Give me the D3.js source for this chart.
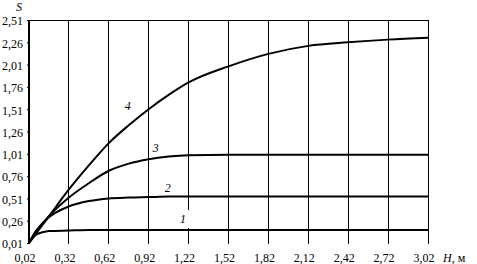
<!DOCTYPE html>
<html>
<head>
<meta charset="utf-8">
<script src="https://cdn.jsdelivr.net/npm/d3@7"></script>
<style>
body{margin:0;background:#fff;}
svg text{font-family:"Liberation Serif","Times New Roman",serif !important;font-size:12px;fill:#000;}
</style>
</head>
<body>
<svg id="chart" width="477" height="264"></svg>
<script>
// H, m
var hTicks = [0.02,0.32,0.62,0.92,1.22,1.52,1.82,2.12,2.42,2.72,3.02];
var sTicks = [0.01,0.26,0.51,0.76,1.01,1.26,1.51,1.76,2.01,2.26,2.51];

var hVals = [0.02,0.07,0.12,0.17,0.32,0.47,0.62,0.77,0.92,1.07,1.22,1.52,1.82,2.12,2.42,2.72,3.02];
var s1 = [0.01,0.10,0.13,0.145,0.15,0.155,0.155,0.155,0.155,0.155,0.155,0.155,0.155,0.155,0.155,0.155,0.155];
var s2 = [0.01,0.14,0.23,0.30,0.42,0.48,0.51,0.52,0.525,0.53,0.53,0.53,0.53,0.53,0.53,0.53,0.53];
var s3 = [0.01,0.13,0.22,0.31,0.52,0.68,0.82,0.90,0.95,0.98,0.995,1.0,1.0,1.0,1.0,1.0,1.0];
var s4 = [0.01,0.11,0.21,0.31,0.61,0.88,1.13,1.33,1.51,1.67,1.81,1.99,2.13,2.22,2.26,2.29,2.31];

// curve number labels (H, S)
var curveLabels = [
  {t:"4", h:0.74, s:1.50},
  {t:"3", h:0.95, s:1.03},
  {t:"2", h:1.04, s:0.58},
  {t:"1", h:1.155, s:0.234}
];

var font = "'Liberation Serif','Times New Roman',serif";
var svg = d3.select("#chart");
var x = d3.scaleLinear().domain([0.02,3.02]).range([29,428]);
var y = d3.scaleLinear().domain([0.01,2.51]).range([243,20]);

// vertical grid lines
svg.selectAll(".grid").data(hTicks.slice(1)).enter().append("line")
  .attr("x1",function(d){return x(d);}).attr("x2",function(d){return x(d);})
  .attr("y1",y(2.51)).attr("y2",y(0.01)+1)
  .attr("stroke","#000").attr("stroke-width",1).attr("shape-rendering","crispEdges");

// top border
svg.append("line").attr("x1",x(0.02)).attr("x2",x(3.02)+0.5)
  .attr("y1",y(2.51)).attr("y2",y(2.51))
  .attr("stroke","#000").attr("stroke-width",1).attr("shape-rendering","crispEdges");

// gap behind label 1
var l1 = curveLabels[3];
svg.append("rect").attr("x",x(l1.h)-2).attr("y",y(l1.s)-13)
  .attr("width",12).attr("height",18).attr("fill","#fff");

// left axis
var yAxis = d3.axisLeft(y).tickValues(sTicks).tickSize(2).tickPadding(4)
  .tickFormat(function(d){return d3.format(".2f")(d).replace(".",",");});
var ga = svg.append("g").attr("transform","translate("+x(0.02)+",0)").call(yAxis);
ga.attr("font-family",font).attr("font-size",12);
ga.select(".domain").attr("stroke-width",2).attr("d","M0,"+y(2.51)+"V"+(y(0.01)+1));
ga.selectAll("text").attr("font-family",font).attr("dy","0.4em");

// x labels
svg.selectAll(".xl").data(hTicks).enter().append("text")
  .attr("x",function(d){return x(d)-4;}).attr("y",262)
  .attr("text-anchor","middle").attr("font-family",font)
  .text(function(d){return d3.format(".2f")(d).replace(".",",");});

svg.append("text").attr("x",19).attr("y",11).attr("text-anchor","middle")
  .attr("font-family",font).style("font-style","italic").text("S");
var ht = svg.append("text").attr("x",443).attr("y",262).attr("font-family",font);
ht.append("tspan").style("font-style","italic").text("H");
ht.append("tspan").text(", м");

// curves
var line = d3.line()
  .x(function(d){return x(d[0]);})
  .y(function(d){return y(d[1]);})
  .curve(d3.curveMonotoneX);

[s1,s2,s3,s4].forEach(function(s){
  svg.append("path")
    .datum(hVals.map(function(h,i){return [h,s[i]];}))
    .attr("d",line)
    .attr("fill","none").attr("stroke","#000").attr("stroke-width",2);
});

// labels
curveLabels.forEach(function(l){
  svg.append("text").attr("x",x(l.h)).attr("y",y(l.s))
    .attr("font-family",font).style("font-style","italic").text(l.t);
});
</script>
</body>
</html>
